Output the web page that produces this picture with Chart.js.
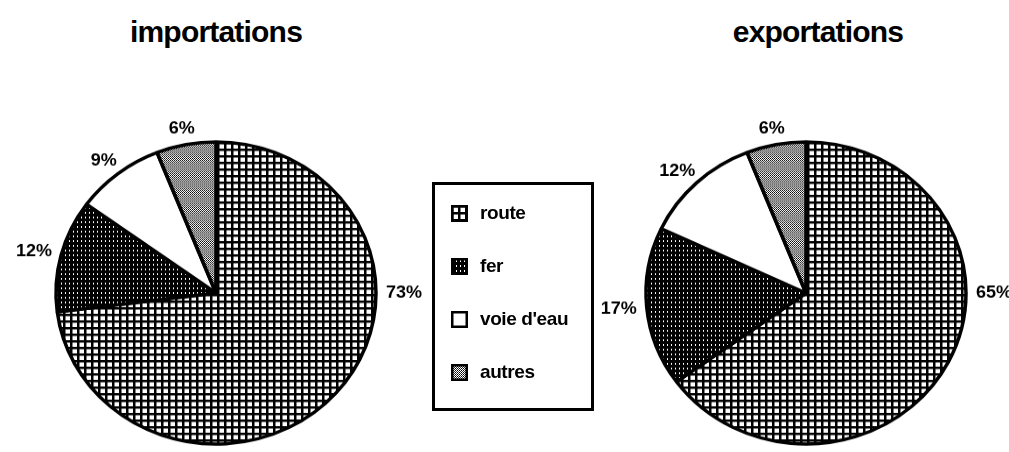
<!DOCTYPE html>
<html>
<head>
<meta charset="utf-8">
<script src="https://cdn.jsdelivr.net/npm/chart.js@4.4.0/dist/chart.umd.min.js"></script>
<style>
  html, body { margin: 0; padding: 0; background: #fff; }
  #page { position: relative; width: 1009px; height: 452px; overflow: hidden; background: #fff; }
  .pie { position: absolute; top: 0; transform: scaleY(0.944); transform-origin: 216px 293px; }
  .title { position: absolute; top: 15px; width: 300px; text-align: center;
           font: bold 30px 'Liberation Sans', Arial, sans-serif; letter-spacing: -0.8px; color: #000; }
  #legend { position: absolute; left: 432px; top: 182px; width: 162px; height: 229px;
            box-sizing: border-box; border: 3px solid #000; background: #fff; }
  .item { position: absolute; left: 16px; height: 20px; display: flex; align-items: center;
          font: bold 19px 'Liberation Sans', Arial, sans-serif; letter-spacing: -0.4px; color: #000; }
  .item canvas { margin-right: 12px; }
</style>
</head>
<body>
<div id="page">
  <div class="title" id="title-imp" style="left:66px"></div>
  <div class="title" id="title-exp" style="left:668px"></div>
  <canvas id="chartImp" class="pie" width="432" height="586" style="left:0"></canvas>
  <canvas id="chartExp" class="pie" width="432" height="586" style="left:590px"></canvas>
  <div id="legend"></div>
</div>
<script>
// --- données ---
const categories = ['route', 'fer', "voie d'eau", 'autres'];
const importValues = [73, 12, 9, 6];
const exportValues = [65, 17, 12, 6];
const chartTitles = ['importations', 'exportations'];

// --- motifs noir et blanc ---
function makePattern(w, h, draw) {
    const c = document.createElement('canvas');
    c.width = w; c.height = h;
    const g = c.getContext('2d');
    draw(g);
    return g.createPattern(c, 'repeat');
}

const PATTERNS = [
    // route : quadrillage
    makePattern(7, 7, g => {
        g.fillStyle = '#000'; g.fillRect(0, 0, 7, 7);
        g.fillStyle = '#fff'; g.fillRect(2.5, 2.5, 4.5, 4.5);
    }),
    // fer : noir pointillé blanc
    makePattern(4, 5, g => {
        g.fillStyle = '#000'; g.fillRect(0, 0, 4, 5);
        g.fillStyle = '#fff'; g.fillRect(1, 2, 1, 2);
    }),
    // voie d'eau : blanc
    '#ffffff',
    // autres : trame grise
    makePattern(2, 2, g => {
        g.fillStyle = '#fff'; g.fillRect(0, 0, 2, 2);
        g.fillStyle = '#000'; g.fillRect(0, 0, 1, 1);
        g.fillStyle = '#333'; g.fillRect(1, 1, 1, 1);
    })
];

// étiquettes en pourcentage autour du camembert
const percentLabels = {
    id: 'percentLabels',
    afterDatasetsDraw(chart) {
        const ctx = chart.ctx;
        const meta = chart.getDatasetMeta(0);
        const values = chart.data.datasets[0].data;
        ctx.save();
        ctx.font = 'bold 18px "Liberation Sans", Arial, sans-serif';
        ctx.fillStyle = '#000';
        ctx.textAlign = 'center';
        ctx.textBaseline = 'middle';
        meta.data.forEach((arc, i) => {
            const p = arc.getProps(['x', 'y', 'startAngle', 'endAngle', 'outerRadius'], true);
            // la grande part porte son étiquette à droite (3 heures)
            let a = (p.startAngle + p.endAngle) / 2;
            if (p.startAngle <= 0 && p.endAngle >= 0) a = 0;
            const txt = values[i] + '%';
            const w = ctx.measureText(txt).width;
            const h = 14;
            const r = p.outerRadius + 10;
            const cx = p.x + Math.cos(a) * (r + w / 2);
            const cy = p.y + Math.sin(a) * (r + h / 2);
            ctx.fillText(txt, cx, cy);
        });
        ctx.restore();
    }
};

function renderPie(canvasId, values) {
    const ctx = document.getElementById(canvasId).getContext('2d');
    return new Chart(ctx, {
        type: 'pie',
        data: {
            labels: categories,
            datasets: [{
                data: values,
                backgroundColor: PATTERNS,
                borderColor: '#000',
                borderWidth: 3.5,
                hoverOffset: 0
            }]
        },
        options: {
            responsive: false,
            animation: false,
            events: [],
            radius: 160,
            layout: { padding: 0 },
            plugins: {
                legend: { display: false },
                tooltip: { enabled: false },
                title: { display: false }
            }
        },
        plugins: [percentLabels]
    });
}

// --- légende commune ---
function renderLegend() {
    const box = document.getElementById('legend');
    const rowTops = [18, 71, 124, 177];
    categories.forEach((name, i) => {
        const row = document.createElement('div');
        row.className = 'item';
        row.style.top = rowTops[i] + 'px';
        const sw = document.createElement('canvas');
        sw.width = 17; sw.height = 17;
        const g = sw.getContext('2d');
        g.fillStyle = PATTERNS[i];
        g.fillRect(0, 0, 17, 17);
        g.strokeStyle = '#000';
        g.lineWidth = 2.5;
        g.strokeRect(1.25, 1.25, 14.5, 14.5);
        row.appendChild(sw);
        row.appendChild(document.createTextNode(name));
        box.appendChild(row);
    });
}

window.onload = function() {
    document.getElementById('title-imp').textContent = chartTitles[0];
    document.getElementById('title-exp').textContent = chartTitles[1];
    renderPie('chartImp', importValues);
    renderPie('chartExp', exportValues);
    renderLegend();
};
</script>
</body>
</html>
